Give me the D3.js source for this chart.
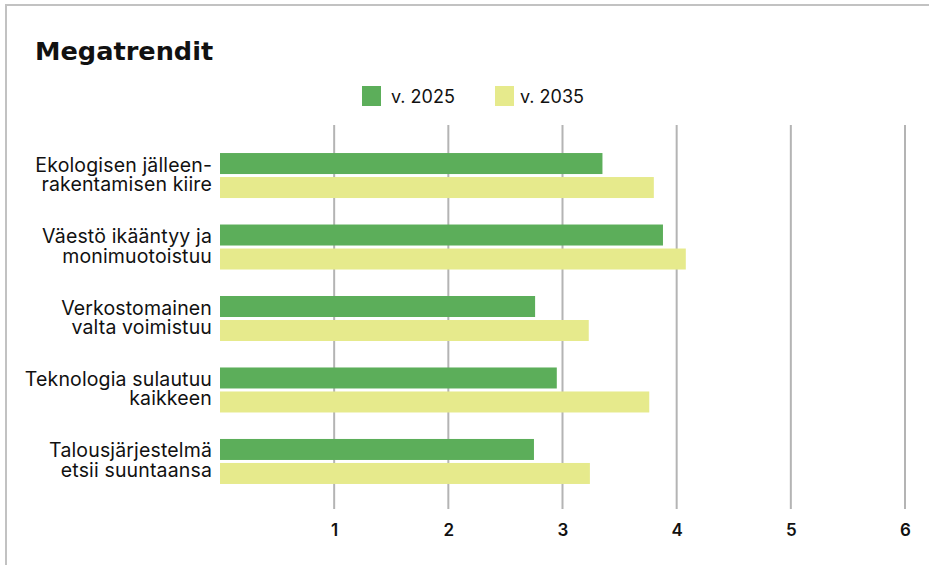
<!DOCTYPE html>
<html>
<head>
<meta charset="utf-8">
<script src="https://cdn.jsdelivr.net/npm/d3@7"></script>
<style>
  html, body { margin: 0; padding: 0; background: #fff; }
  svg { display: block; }
</style>
</head>
<body>
<svg id="chart" width="929" height="565"></svg>
<script>
const categories = [
  ["Ekologisen jälleen-", "rakentamisen kiire"],
  ["Väestö ikääntyy ja", "monimuotoistuu"],
  ["Verkostomainen", "valta voimistuu"],
  ["Teknologia sulautuu", "kaikkeen"],
  ["Talousjärjestelmä", "etsii suuntaansa"]
];
const seriesNames = ["v. 2025", "v. 2035"];
const values2025 = [3.35, 3.88, 2.76, 2.95, 2.75];
const values2035 = [3.80, 4.08, 3.23, 3.76, 3.24];
const tickValues = [1, 2, 3, 4, 5, 6];
const colors = ["#5cae5a", "#e6ea8c"];

const FONT = "Inter, 'Open Sans', sans-serif";
const svg = d3.select("#chart");
const keys = categories.map((c, i) => i);
const seriesValues = [values2025, values2035];

// frame
svg.append("rect")
  .attr("x", 6).attr("y", 5).attr("width", 1000).attr("height", 1000)
  .attr("fill", "none").attr("stroke", "#c2c2c2").attr("stroke-width", 2);

// title
svg.append("text").attr("x", 35).attr("y", 60)
  .style("font-family", "'DejaVu Sans', sans-serif")
  .style("font-size", "25.6px").style("font-weight", 700)
  .attr("fill", "#111")
  .text("Megatrendit");

// legend
const legendX = [362, 495];
seriesNames.forEach((name, i) => {
  svg.append("rect").attr("x", legendX[i]).attr("y", 86)
    .attr("width", 19).attr("height", 20).attr("fill", colors[i]);
  svg.append("text").attr("x", legendX[i] + (i === 0 ? 29 : 25)).attr("y", 103)
    .style("font-family", FONT).style("font-size", "18px")
    .attr("fill", "#111").text(name);
});

const x = d3.scaleLinear().domain([0, 6]).range([220, 905]);
const y = d3.scaleBand().domain(keys).range([126, 511]).paddingOuter(0.193).paddingInner(0);
const ySub = d3.scaleBand().domain([0, 1]).range([0, 45]).paddingInner(0.125);

// gridlines
svg.append("g").selectAll("line").data(tickValues).join("line")
  .attr("x1", d => x(d)).attr("x2", d => x(d))
  .attr("y1", 125).attr("y2", 509)
  .attr("stroke", "#b4b4b4").attr("stroke-width", 2);

// bars
const groups = svg.append("g").selectAll("g").data(keys).join("g")
  .attr("transform", d => `translate(0,${y(d) + y.bandwidth() / 2 - 22.5})`);
groups.selectAll("rect").data(i => seriesValues.map((s, j) => ({ j, v: s[i] }))).join("rect")
  .attr("x", x(0))
  .attr("y", d => ySub(d.j))
  .attr("width", d => x(d.v) - x(0))
  .attr("height", ySub.bandwidth())
  .attr("fill", d => colors[d.j]);

// category labels
const labels = svg.append("g").selectAll("text").data(keys).join("text")
  .attr("text-anchor", "end")
  .style("font-family", FONT).style("font-size", "19.5px")
  .style("letter-spacing", "0.15px")
  .attr("fill", "#111")
  .attr("y", d => y(d) + y.bandwidth() / 2 - 4);
labels.selectAll("tspan").data(i => categories[i]).join("tspan")
  .attr("x", 212)
  .attr("dy", (d, k) => k === 0 ? 0 : 19.5)
  .text(d => d);

// x axis tick labels
const xAxis = d3.axisBottom(x).tickValues(tickValues).tickFormat(d3.format("d")).tickSize(0).tickPadding(0);
const ax = svg.append("g").attr("transform", "translate(0,524)").call(xAxis);
ax.select(".domain").remove();
ax.selectAll("text")
  .style("font-family", FONT).style("font-size", "17px").style("font-weight", 600)
  .attr("fill", "#111").attr("dy", "0.71em");
</script>
</body>
</html>
